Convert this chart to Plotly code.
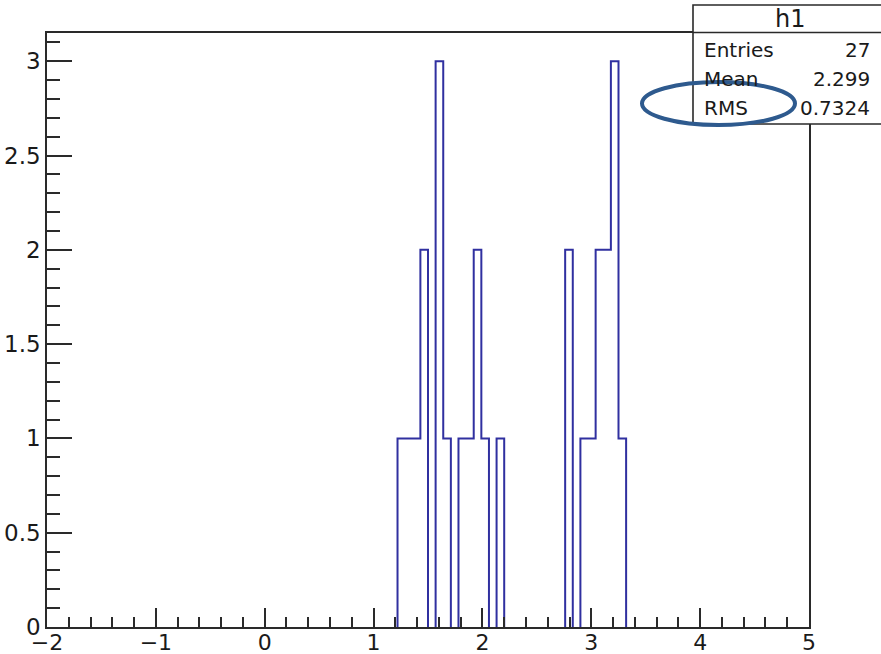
import plotly.graph_objects as go

# ---- data (ROOT TH1 "h1": 100 bins from -2 to 5) ----
n_bins = 100
x_min, x_max = -2.0, 5.0
filled_bins = [46, 47, 48, 49, 51, 52, 54, 55, 56, 57, 59,
               68, 70, 71, 72, 73, 74, 75]
filled_counts = [1, 1, 1, 2, 3, 1, 1, 1, 2, 1, 1,
                 2, 1, 1, 2, 2, 3, 1]

stat_names = ["Entries", "Mean", "RMS"]
stat_values = ["27", "2.299", "0.7324"]
hist_title = "h1"

x_tickvals = [-2, -1, 0, 1, 2, 3, 4, 5]
x_ticktext = ["\u22122", "\u22121", "0", "1", "2", "3", "4", "5"]
y_tickvals = [0, 0.5, 1, 1.5, 2, 2.5, 3]
y_ticktext = ["0", "0.5", "1", "1.5", "2", "2.5", "3"]

# ---- build histogram outline (ROOT style: no line along the zero baseline) ----
width = (x_max - x_min) / n_bins
counts = [0] * n_bins
for b, c in zip(filled_bins, filled_counts):
    counts[b] = c
edges = [x_min + i * width for i in range(n_bins + 1)]

xs, ys = [], []
i = 0
while i < n_bins:
    if counts[i] == 0:
        i += 1
        continue
    j = i
    xs += [edges[i], edges[i]]
    ys += [0, counts[i]]
    while j < n_bins and counts[j] > 0:
        xs += [edges[j], edges[j + 1]]
        ys += [counts[j], counts[j]]
        if j + 1 < n_bins and counts[j + 1] > 0:
            xs += [edges[j + 1]]
            ys += [counts[j + 1]]
        j += 1
    xs += [edges[j], None]
    ys += [0, None]
    i = j

# ---- layout geometry (pixels) ----
W, H = 881, 654
ML, MR, MT, MB = 47, 72, 33, 27
PW, PH = W - ML - MR, H - MT - MB


def px(x):
    return (x - ML) / PW


def py(y):
    return (H - MB - y) / PH


FONT = "DejaVu Sans, Liberation Sans, Arial, sans-serif"
AX = "#2a2a2a"
TXT = "#1a1a1a"

fig = go.Figure()
fig.add_trace(go.Scatter(
    x=xs, y=ys, mode="lines",
    line=dict(color="#3030a0", width=2), hoverinfo="skip", showlegend=False,
))

fig.update_layout(
    width=W, height=H,
    margin=dict(l=ML, r=MR, t=MT, b=MB, pad=0, autoexpand=False),
    paper_bgcolor="white", plot_bgcolor="white",
    font=dict(family=FONT, color=TXT),
    showlegend=False,
)

fig.update_xaxes(
    range=[x_min, x_max], showgrid=False, zeroline=False, automargin=False,
    showline=True, linecolor=AX, linewidth=1.6, mirror=True,
    tickmode="array", tickvals=x_tickvals, ticktext=x_ticktext,
    ticks="inside", ticklen=19, tickwidth=1.5, tickcolor=AX,
    minor=dict(dtick=0.2, tick0=-2, ticks="inside", ticklen=10, tickwidth=1.5, tickcolor=AX, showgrid=False),
    tickfont=dict(size=22, family=FONT, color=TXT),
    ticklabelstandoff=-5,
)
fig.update_yaxes(
    range=[0, 3.15], showgrid=False, zeroline=False, automargin=False,
    showline=True, linecolor=AX, linewidth=1.6, mirror=True,
    tickmode="array", tickvals=y_tickvals, ticktext=y_ticktext,
    ticks="inside", ticklen=25, tickwidth=1.5, tickcolor=AX,
    minor=dict(dtick=0.1, tick0=0, ticks="inside", ticklen=13, tickwidth=1.5, tickcolor=AX, showgrid=False),
    tickfont=dict(size=23, family=FONT, color=TXT),
)

# ---- stats box ----
bx0, by0, bx1, by1 = 693, 5, 895, 124
fig.add_shape(type="rect", xref="paper", yref="paper",
              x0=px(bx0), x1=px(bx1), y0=py(by1), y1=py(by0),
              fillcolor="white", line=dict(color=AX, width=1.6), layer="above")
fig.add_shape(type="line", xref="paper", yref="paper",
              x0=px(bx0), x1=px(bx1), y0=py(32.5), y1=py(32.5),
              line=dict(color=AX, width=1.6), layer="above")
fig.add_annotation(xref="paper", yref="paper", x=px(790), y=py(19),
                   text=hist_title, showarrow=False, xanchor="center", yanchor="middle",
                   font=dict(size=24, family=FONT, color=TXT))
row_y = [50, 79, 108]
for name, val, ry in zip(stat_names, stat_values, row_y):
    fig.add_annotation(xref="paper", yref="paper", x=px(702), y=py(ry),
                       text=name, showarrow=False, xanchor="left", yanchor="middle",
                       font=dict(size=20, family=FONT, color=TXT))
    fig.add_annotation(xref="paper", yref="paper", x=px(872), y=py(ry),
                       text=val, showarrow=False, xanchor="right", yanchor="middle",
                       font=dict(size=20, family=FONT, color=TXT))

# ---- highlight ellipse ----
fig.add_shape(type="circle", xref="paper", yref="paper",
              x0=px(642), x1=px(795), y0=py(125), y1=py(82),
              line=dict(color="#2E5A8E", width=4), fillcolor="rgba(0,0,0,0)", layer="above")

fig.write_html("out.html")
